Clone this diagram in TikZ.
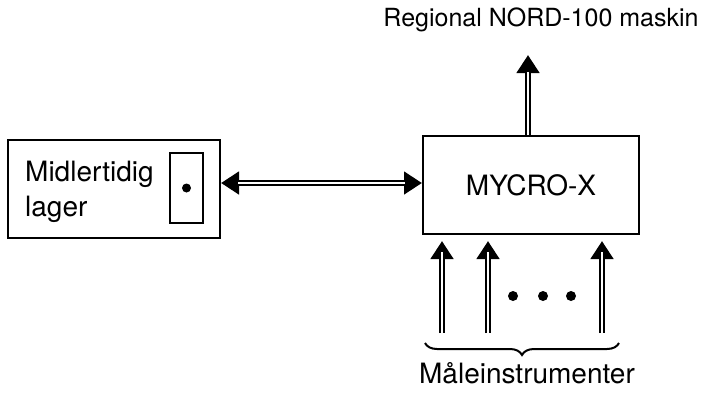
\documentclass[tikz,border=0pt]{standalone}
\usepackage{fontspec}
\setmainfont{TeX Gyre Heros}
\usetikzlibrary{arrows.meta,decorations.pathreplacing}

\begin{document}
\begin{tikzpicture}[x=1pt,y=-1pt,
  box/.style={draw,line width=2pt,inner sep=0pt},
  lbl/.style={font=\fontsize{28}{35}\selectfont,inner sep=0pt},
  tip/.tip={Triangle[width=22pt,length=18pt]},
  dbl/.style={line width=6pt,-tip,postaction={draw=white,line width=2pt,-,shorten >=17pt}},
  dbltwo/.style={line width=6pt,tip-tip,postaction={draw=white,line width=2pt,-,shorten >=17pt,shorten <=17pt}},
  dot/.style={circle,fill,inner sep=0pt,minimum size=10pt}]
\useasboundingbox (0,0) rectangle (722,392);

\node[box,minimum width=212pt,minimum height=98pt] (lager) at (114,189) {};
\node[box,minimum width=33pt,minimum height=70pt] (disk) at (186.5,188) {};
\node[dot,minimum size=9pt] (diskdot) at (disk.center) {};
\node[lbl,anchor=north west,align=left] (lagertxt) at (25,161) {Midlertidig\\lager};

\node[box,minimum width=216pt,minimum height=98pt,lbl] (mycro) at (531,185) {MYCRO-X};
\node[lbl,font=\fontsize{25}{30}\selectfont] (nord) at (541,20) {Regional NORD-100 maskin};

% forbindelse lager <-> mycro
\coordinate (h) at (0,183);
\draw[dbltwo] (lager.east |- h) -- (mycro.west |- h);

% ut til NORD-100
\coordinate (top) at (528,55);
\draw[dbl] (top |- mycro.north) -- (top);

% maaleinstrumenter
\foreach \i/\x in {1/442,2/488,3/602}{
  \coordinate (m\i) at (\x,333);
  \draw[dbl,shorten >=6pt] (m\i) -- (m\i |- mycro.south);
}
\foreach \i/\x in {1/513,2/543,3/571}
  \node[dot] (d\i) at (\x,296) {};

\draw[line width=2pt,decorate,decoration={brace,mirror,amplitude=12pt}] (425,343) -- (619,343);
\node[lbl,anchor=north] (maal) at (527,362) {Måleinstrumenter};
\end{tikzpicture}
\end{document}
